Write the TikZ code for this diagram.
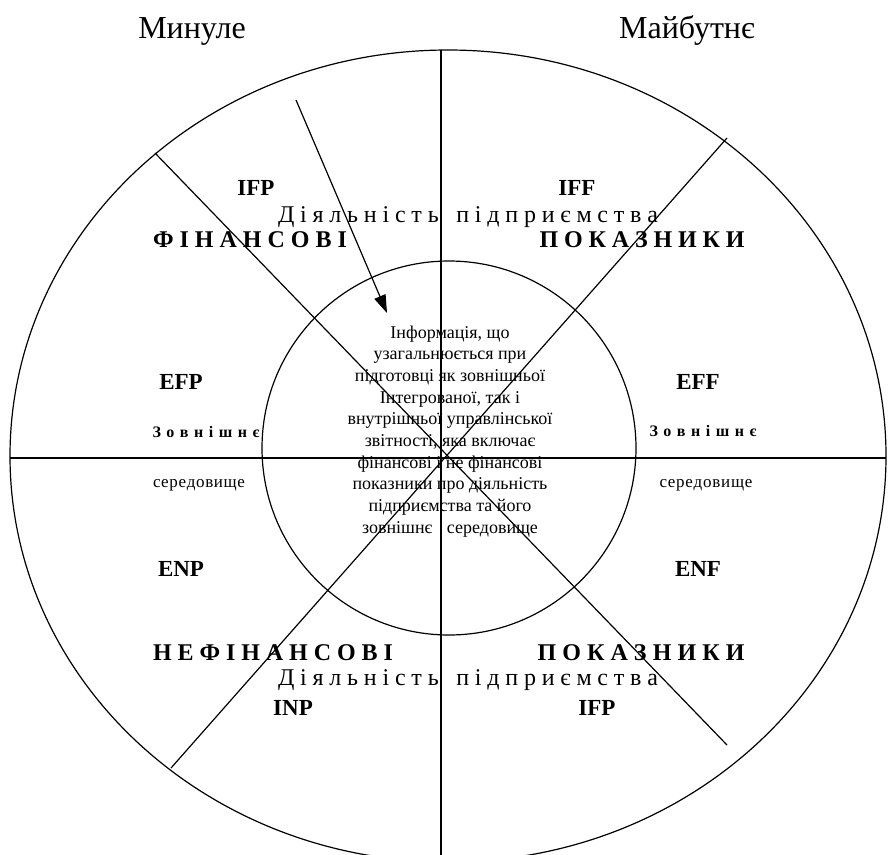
\documentclass[tikz,border=0pt]{standalone}
\usepackage{fontspec}
\setmainfont{Liberation Serif}
\usetikzlibrary{arrows.meta}
\def\spreadit#1{\spreadaux#1\relax}
\def\spreadaux#1#2{#1\ifx\relax#2\else\hss\expandafter\spreadaux\expandafter#2\fi}
\newcommand\fs[1]{\fontsize{#1}{#1}\selectfont}
\tikzset{
  lbl/.style={inner sep=0pt, anchor=base},
  code/.style={lbl, font=\fs{23}\bfseries},
  line/.style={line width=1.2pt, black},
}
\begin{document}
\begin{tikzpicture}[x=1pt,y=-1pt]
\useasboundingbox (0,0) rectangle (888,854);
\clip (0,0) rectangle (888,854);
% geometry
\coordinate (ec) at (448,456);
\coordinate (ic) at (449,448);
\coordinate (vt) at (441,50);
\coordinate (vb) at (441,880);
\coordinate (hl) at (10,458);
\coordinate (hr) at (886,458);
\coordinate (a1) at (155,153);
\coordinate (a2) at (727,745);
\coordinate (b1) at (727,138);
\coordinate (b2) at (171,768);
\coordinate (ar1) at (296,100);
\coordinate (ar2) at (387,313);
\draw[line] (ec) ellipse [x radius=438pt, y radius=406pt];
\draw[line] (ic) circle [radius=187pt];
\draw[line] (vt) -- (vb);
\draw[line width=1.6pt] (hl) -- (hr);
\draw[line] (a1) -- (a2);
\draw[line] (b1) -- (b2);
\draw[line, -{Triangle[length=18pt,width=12pt]}] (ar1) -- (ar2);
% titles
\node[lbl, font=\fs{32}] (past) at (192,38) {Минуле};
\node[lbl, font=\fs{32}] (fut) at (687,38) {Майбутнє};
% codes
\node[code] (ifp) at (256,195) {IFP};
\node[code] (iff) at (577,195) {IFF};
\node[code] (efp) at (181,389) {EFP};
\node[code] (eff) at (698,389) {EFF};
\node[code] (enp) at (181,576) {ENP};
\node[code] (enf) at (698,576) {ENF};
\node[code] (inp) at (293,715) {INP};
\node[code] (ifp2) at (597,715) {IFP};
% spaced labels
\node[lbl] (act1) at (468,222) {\fs{24}\hbox to 380pt{\spreadit{Діяльність~підприємства}}};
\node[lbl] (act2) at (468,685) {\fs{24}\hbox to 380pt{\spreadit{Діяльність~підприємства}}};
\node[lbl] (fin) at (250,247) {\fs{24}\bfseries\hbox to 194pt{\spreadit{ФІНАНСОВІ}}};
\node[lbl] (ind1) at (642,247) {\fs{24}\bfseries\hbox to 205pt{\spreadit{ПОКАЗНИКИ}}};
\node[lbl] (nfin) at (273,660) {\fs{24}\bfseries\hbox to 240pt{\spreadit{НЕФІНАНСОВІ}}};
\node[lbl] (ind2) at (641,660) {\fs{24}\bfseries\hbox to 207pt{\spreadit{ПОКАЗНИКИ}}};
\node[lbl] (ext1) at (206,437) {\fs{16}\bfseries\hbox to 107pt{\spreadit{Зовнішнє}}};
\node[lbl] (ext2) at (703,436) {\fs{16}\bfseries\hbox to 107pt{\spreadit{Зовнішнє}}};
\node[lbl] (env1) at (199,487) {\fs{17}\hbox to 92pt{\spreadit{середовище}}};
\node[lbl] (env2) at (706,487) {\fs{17}\hbox to 93pt{\spreadit{середовище}}};
% centre text
\foreach \t [count=\i] in {{Інформація, що},{узагальнюється при},{підготовці як зовнішньої},{Інтегрованої, так і},{внутрішньої управлінської},{звітності, яка включає},{фінансові і не фінансові},{показники про діяльність},{підприємства та його},{зовнішнє\hspace{10pt} середовище}}
  \node[lbl, font=\fs{18}] (c\i) at (450,{338+(\i-1)*21.67}) {\t};
\end{tikzpicture}
\end{document}
